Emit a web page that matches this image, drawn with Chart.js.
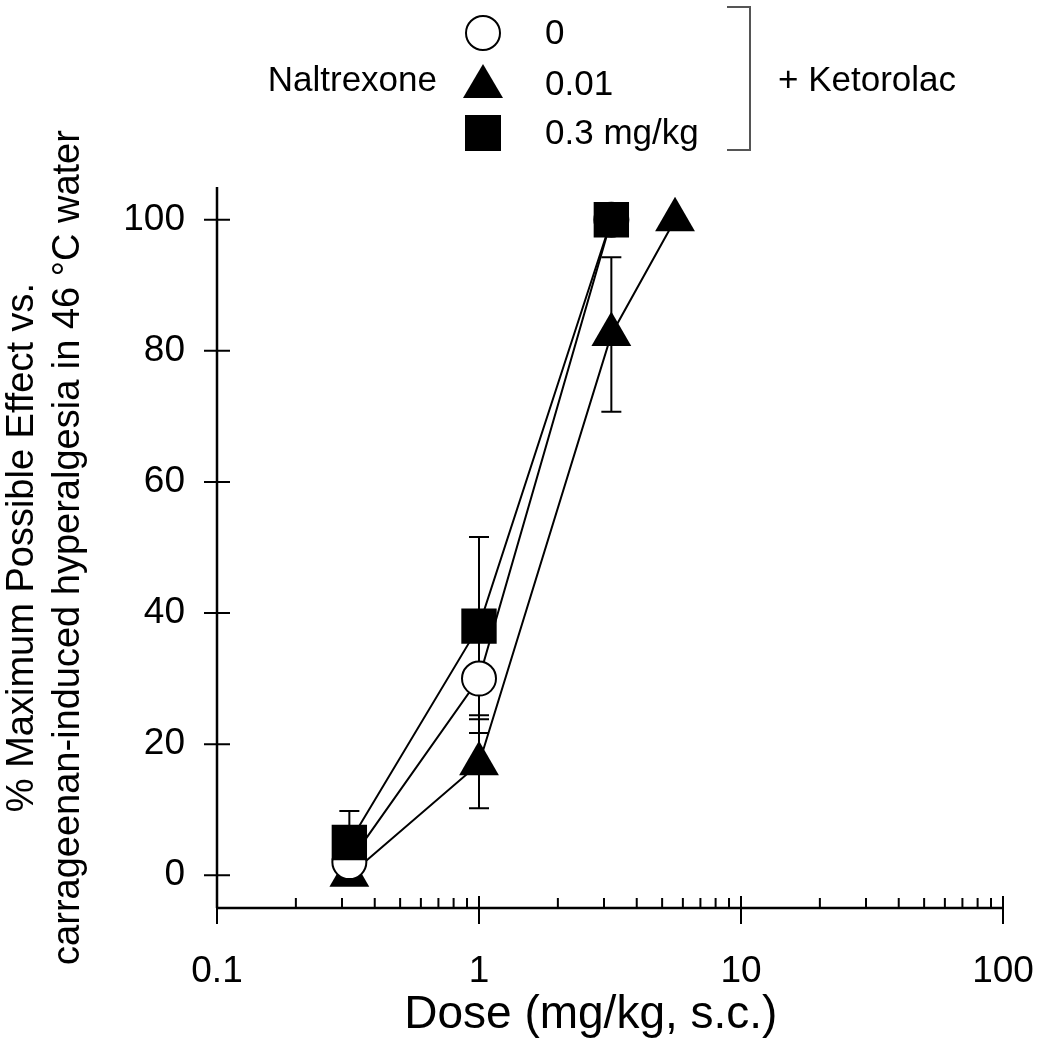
<!DOCTYPE html>
<html>
<head>
<meta charset="utf-8">
<script src="https://cdn.jsdelivr.net/npm/chart.js@4.4.1/dist/chart.umd.min.js"></script>
<style>
  body { margin: 0; background: #fff; }
  #wrap { width: 1037px; height: 1050px; position: relative; }
</style>
</head>
<body>
<div id="wrap"><canvas id="dose_chart"></canvas></div>
<script>
// doses (mg/kg) and % MPE
var doses_ntx0 = [0.32, 1, 3.2];
var mpe_ntx0 = [2, 30, 100];
var sem_ntx0 = [0, 8.3, 0];

var doses_ntx001 = [0.32, 1, 3.2, 5.6];
var mpe_ntx001 = [0, 17, 82.5, 100];
var sem_ntx001 = [0, 6.8, 11.8, 0];

var doses_ntx03 = [0.32, 1, 3.2];
var mpe_ntx03 = [5, 38, 100];
var sem_ntx03 = [4.8, 13.6, 0];

var legendLabels = ['0', '0.01', '0.3 mg/kg'];
var xTickValues = [0.1, 1, 10, 100];
var yTickValues = [0, 20, 40, 60, 80, 100];

var fontName = '"Liberation Sans", Arial, sans-serif';

function toPoints(xs, ys) {
  return xs.map(function(x, i) { return {x: x, y: ys[i]}; });
}

// minor tick positions for the log axis
var xMinorTicks = [];
for (let d = 0.1; d < 100; d *= 10) {
  for (let m = 2; m <= 9; m++) xMinorTicks.push(d * m);
}

var errorSets = [
  {xs: doses_ntx001, ys: mpe_ntx001, err: sem_ntx001},
  {xs: doses_ntx0, ys: mpe_ntx0, err: sem_ntx0},
  {xs: doses_ntx03, ys: mpe_ntx03, err: sem_ntx03}
];

var errorBars = {
  id: 'errorBars',
  beforeDatasetsDraw: function(chart) {
    var ctx = chart.ctx, xs = chart.scales.x, ys = chart.scales.y;
    ctx.save();
    ctx.strokeStyle = '#000';
    ctx.lineWidth = 2;
    errorSets.forEach(function(s) {
      s.xs.forEach(function(d, i) {
        if (!s.err[i]) return;
        var px = xs.getPixelForValue(d);
        var hi = ys.getPixelForValue(s.ys[i] + s.err[i]);
        var lo = ys.getPixelForValue(s.ys[i] - s.err[i]);
        ctx.beginPath();
        ctx.moveTo(px, hi); ctx.lineTo(px, lo);
        ctx.moveTo(px - 10, hi); ctx.lineTo(px + 10, hi);
        ctx.moveTo(px - 10, lo); ctx.lineTo(px + 10, lo);
        ctx.stroke();
      });
    });
    ctx.restore();
  }
};

var axesAndLegend = {
  id: 'axesAndLegend',
  afterDraw: function(chart) {
    var ctx = chart.ctx, xs = chart.scales.x, ys = chart.scales.y;
    var ax = xs.getPixelForValue(0.1);
    var ay = ys.getPixelForValue(-5);
    ctx.save();
    ctx.strokeStyle = '#000';
    ctx.lineWidth = 2.5;
    ctx.beginPath();
    // axis lines
    ctx.moveTo(ax, ys.getPixelForValue(105)); ctx.lineTo(ax, ay);
    ctx.moveTo(ax, ay); ctx.lineTo(xs.getPixelForValue(100), ay);
    ctx.stroke();
    ctx.lineWidth = 2;
    ctx.beginPath();
    yTickValues.forEach(function(v) {
      var py = ys.getPixelForValue(v);
      ctx.moveTo(ax - 13, py); ctx.lineTo(ax + 13, py);
    });
    xTickValues.forEach(function(v) {
      var px = xs.getPixelForValue(v);
      ctx.moveTo(px, ay - 12); ctx.lineTo(px, ay + 16);
    });
    xMinorTicks.forEach(function(v) {
      var px = xs.getPixelForValue(v);
      ctx.moveTo(px, ay - 10); ctx.lineTo(px, ay);
    });
    ctx.stroke();

    // legend
    ctx.fillStyle = '#000';
    ctx.font = '35px ' + fontName;
    ctx.textBaseline = 'middle';
    ctx.textAlign = 'right';
    ctx.fillText('Naltrexone', 437, 81);
    ctx.textAlign = 'left';
    var rows = [33, 84, 133];
    legendLabels.forEach(function(t, i) { ctx.fillText(t, 545, rows[i] + 1); });
    ctx.fillText('+ Ketorolac', 778, 81);

    ctx.lineWidth = 2;
    ctx.beginPath();
    ctx.arc(483, rows[0], 17, 0, Math.PI * 2);
    ctx.fillStyle = '#fff';
    ctx.fill();
    ctx.stroke();
    ctx.fillStyle = '#000';
    ctx.beginPath();
    ctx.moveTo(483, rows[1] - 20);
    ctx.lineTo(503, rows[1] + 14);
    ctx.lineTo(463, rows[1] + 14);
    ctx.closePath();
    ctx.fill();
    ctx.fillRect(465, rows[2] - 18, 36, 36);

    // bracket
    ctx.strokeStyle = '#555';
    ctx.lineWidth = 2;
    ctx.beginPath();
    ctx.moveTo(727, 7); ctx.lineTo(750, 7); ctx.lineTo(750, 150); ctx.lineTo(727, 150);
    ctx.stroke();
    ctx.restore();
  }
};

var chart_element = document.getElementById('dose_chart').getContext('2d');
var myChart = new Chart(chart_element, {
  type: 'line',
  data: {
    datasets: [
      {
        label: '0.3 mg/kg',
        data: toPoints(doses_ntx03, mpe_ntx03),
        order: 0,
        borderColor: '#000',
        borderWidth: 2,
        backgroundColor: '#000',
        pointStyle: 'rect',
        pointRadius: 25,
        pointBorderWidth: 0
      },
      {
        label: '0',
        data: toPoints(doses_ntx0, mpe_ntx0),
        order: 1,
        borderColor: '#000',
        borderWidth: 2,
        backgroundColor: '#fff',
        pointStyle: 'circle',
        pointRadius: 17,
        pointBorderWidth: 2
      },
      {
        label: '0.01',
        data: toPoints(doses_ntx001, mpe_ntx001),
        order: 2,
        borderColor: '#000',
        borderWidth: 2,
        backgroundColor: '#000',
        pointStyle: 'triangle',
        pointRadius: 23,
        pointBorderWidth: 0
      }
    ]
  },
  options: {
    responsive: true,
    maintainAspectRatio: false,
    animation: false,
    layout: { padding: { top: 187, right: 34, left: 0, bottom: 0 } },
    plugins: {
      legend: { display: false },
      tooltip: { enabled: false }
    },
    scales: {
      x: {
        type: 'logarithmic',
        min: 0.1,
        max: 100,
        grid: { display: false, drawTicks: false },
        border: { display: false },
        afterBuildTicks: function(scale) {
          scale.ticks = xTickValues.map(function(v) { return {value: v, major: true}; });
        },
        afterFit: function(scale) {
          scale.height = 142;
          scale.paddingLeft = 0;
          scale.paddingRight = 0;
        },
        ticks: {
          autoSkip: false,
          maxRotation: 0,
          padding: 42,
          color: '#000',
          font: { family: fontName, size: 37 },
          callback: function(value) { return value.toString(); }
        },
        title: {
          display: true,
          // trailing spaces nudge the centred title a bit to the left, as in the figure
          text: 'Dose (mg/kg, s.c.)   ',
          color: '#000',
          font: { family: fontName, size: 46 },
          padding: { top: 0, bottom: 7 }
        }
      },
      y: {
        min: -5,
        max: 105,
        grid: { display: false, drawTicks: false },
        border: { display: false },
        afterBuildTicks: function(scale) {
          scale.ticks = yTickValues.map(function(v) { return {value: v}; });
        },
        afterFit: function(scale) {
          scale.width = 217;
          scale.paddingTop = 0;
          scale.paddingBottom = 0;
        },
        ticks: {
          padding: 32,
          color: '#000',
          font: { family: fontName, size: 37 }
        },
        title: {
          display: true,
          text: ['% Maximum Possible Effect vs.', 'carrageenan-induced hyperalgesia in 46 °C water'],
          color: '#000',
          font: { family: fontName, size: 38 },
          padding: { top: 0, bottom: 0 }
        }
      }
    }
  },
  plugins: [errorBars, axesAndLegend]
});
</script>
</body>
</html>
